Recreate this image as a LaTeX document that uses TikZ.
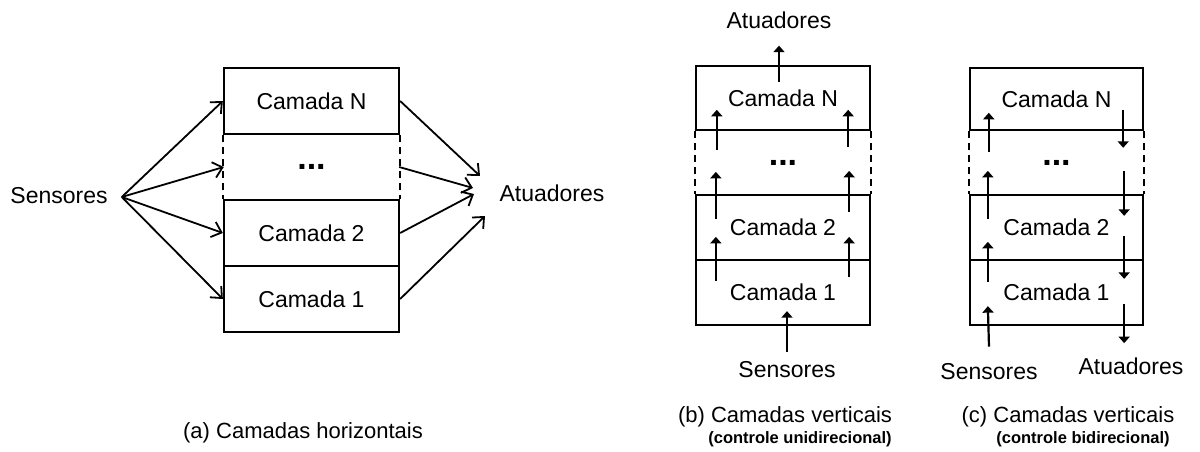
\documentclass[tikz,border=0pt]{standalone}
\usepackage{fontspec}
\setmainfont{Liberation Sans}
\usetikzlibrary{arrows.meta}
\begin{document}
\begin{tikzpicture}[x=1pt,y=-1pt,
  lbl/.style={font=\fontsize{23}{27}\selectfont, inner sep=2pt},
  captxt/.style={font=\fontsize{22}{26}\selectfont, inner sep=2pt},
  subcaptxt/.style={font=\fontsize{16.5}{19}\selectfont\bfseries, inner sep=2pt},
  layer/.style={draw, line width=2.3pt, inner sep=0pt, font=\fontsize{23}{27}\selectfont},
  gaplayer/.style={inner sep=0pt, font=\fontsize{34}{38}\selectfont\bfseries},
  sideline/.style={line width=2pt, dash pattern=on 7pt off 5pt},
  hz/.style={line width=1.8pt, -{Straight Barb[length=9pt,width=16pt,line width=1.8pt]}},
  vt/.style={line width=2.2pt, -{Triangle[length=6.5pt,width=11pt]}}
]
\useasboundingbox (0,0) rectangle (1200,452);

% ---------- (a) horizontal layers ----------
\begin{scope}[every node/.append style={minimum width=175pt}]
  \node[layer,    minimum height=66pt] (aN) at (311.5,101) {Camada N};
  \node[gaplayer, minimum height=66pt] (aD) at (311.5,167) {...};
  \node[layer,    minimum height=66pt] (a2) at (311.5,233) {Camada 2};
  \node[layer,    minimum height=66pt] (a1) at (311.5,299) {Camada 1};
\end{scope}
\draw[sideline] (aN.south west) -- (a2.north west);
\draw[sideline] (aN.south east) -- (a2.north east);

\node[lbl] (sensA) at (59,196) {Sensores};
\node[lbl] (atA) at (552,193) {Atuadores};
\coordinate (srcA) at ([xshift=12pt,yshift=-1pt]sensA.east);
\coordinate (tA1) at (480,176);
\coordinate (tA2) at (473,188);
\coordinate (tA3) at (474,194);
\coordinate (tA4) at (485,216);

\foreach \l in {aN,aD,a2,a1} \draw[hz] (srcA) -- (\l.west);
\draw[hz] (aN.east) -- (tA1);
\draw[hz] (aD.east) -- (tA2);
\draw[hz] (a2.east) -- (tA3);
\draw[hz] (a1.east) -- (tA4);

\node[captxt] (capA) at (303,433) {(a) Camadas horizontais};

% ---------- (b) vertical layers, one pass ----------
\begin{scope}[every node/.append style={minimum width=174pt}]
  \node[layer,    minimum height=64pt] (bN) at (783,98)    {Camada N};
  \node[gaplayer, minimum height=65pt] (bD) at (783,162.5) {...};
  \node[layer,    minimum height=65pt] (b2) at (783,227.5) {Camada 2};
  \node[layer,    minimum height=65pt] (b1) at (783,292.5) {Camada 1};
\end{scope}
\draw[sideline] (bN.south west) -- (b2.north west);
\draw[sideline] (bN.south east) -- (b2.north east);

\node[lbl] (atB) at (779,20) {Atuadores};
\node[lbl] (sensB) at (787,370) {Sensores};

\draw[vt] ([xshift=-4pt,yshift=-17pt]bN.north) -- ([yshift=-15pt]atB.south);
\draw[vt] ([yshift=8pt]sensB.north) -- ([xshift=4pt,yshift=15pt]b1.south);

% upward flow on both sides, crossing each boundary
\draw[vt] ([xshift=21pt,yshift=-20pt]bD.north west) -- ([xshift=21pt,yshift=20pt]bD.north west);
\draw[vt] ([xshift=21pt,yshift=-25pt]b2.north west) -- ([xshift=21pt,yshift=22pt]b2.north west);
\draw[vt] ([xshift=21pt,yshift=-22pt]b1.north west) -- ([xshift=21pt,yshift=22pt]b1.north west);
\draw[vt] ([xshift=-22pt,yshift=-17pt]bD.north east) -- ([xshift=-22pt,yshift=20pt]bD.north east);
\draw[vt] ([xshift=-22pt,yshift=-18pt]b2.north east) -- ([xshift=-22pt,yshift=23pt]b2.north east);
\draw[vt] ([xshift=-22pt,yshift=-18pt]b1.north east) -- ([xshift=-22pt,yshift=22pt]b1.north east);

\node[captxt] (capB) at (785,417) {(b) Camadas verticais};
\node[subcaptxt] (subB) at (800,439) {(controle unidirecional)};

% ---------- (c) vertical layers, two passes ----------
\begin{scope}[every node/.append style={minimum width=173pt}]
  \node[layer,    minimum height=62pt] (cN) at (1056.5,99)    {Camada N};
  \node[gaplayer, minimum height=65pt] (cD) at (1056.5,162.5) {...};
  \node[layer,    minimum height=65pt] (c2) at (1056.5,227.5) {Camada 2};
  \node[layer,    minimum height=65pt] (c1) at (1056.5,292.5) {Camada 1};
\end{scope}
\draw[sideline] (cN.south west) -- (c2.north west);
\draw[sideline] (cN.south east) -- (c2.north east);

\node[lbl] (sensC) at (989,372) {Sensores};
\node[lbl] (atC) at (1131,366) {Atuadores};

% up the left side
\draw[vt] ([yshift=15pt]sensC.north) -- ([xshift=19pt,yshift=20pt]c1.south west);
\draw[vt] ([xshift=19pt,yshift=-23pt]c1.north west) -- ([xshift=19pt,yshift=17pt]c1.north west);
\draw[vt] ([xshift=19pt,yshift=-25pt]c2.north west) -- ([xshift=19pt,yshift=23pt]c2.north west);
\draw[vt] ([xshift=19pt,yshift=-22pt]cD.north west) -- ([xshift=19pt,yshift=17pt]cD.north west);
% down the right side
\draw[vt] ([xshift=-20pt,yshift=20pt]cD.north east) -- ([xshift=-20pt,yshift=-18pt]cD.north east);
\draw[vt] ([xshift=-20pt,yshift=23pt]c2.north east) -- ([xshift=-20pt,yshift=-22pt]c2.north east);
\draw[vt] ([xshift=-20pt,yshift=23pt]c1.north east) -- ([xshift=-20pt,yshift=-20pt]c1.north east);
\draw[vt] ([xshift=-20pt,yshift=22pt]c1.south east) -- ([xshift=-20pt,yshift=-17pt]c1.south east);

\node[captxt] (capC) at (1068,417) {(c) Camadas verticais};
\node[subcaptxt] (subC) at (1083,439) {(controle bidirecional)};
\end{tikzpicture}
\end{document}
